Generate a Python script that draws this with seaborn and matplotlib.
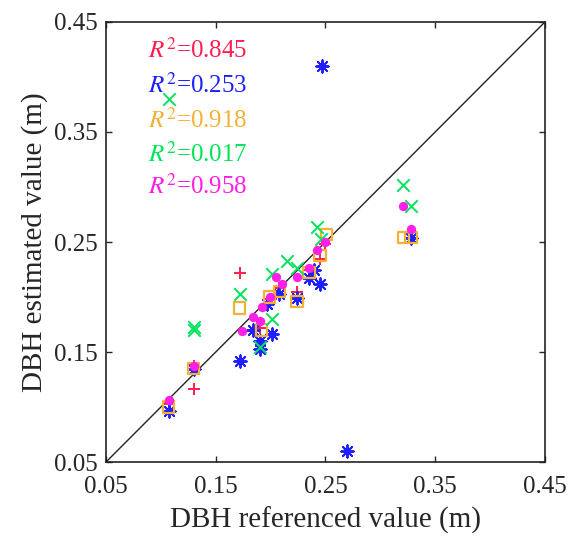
import numpy as np
import pandas as pd
import matplotlib
matplotlib.use("Agg")
import matplotlib.pyplot as plt
import seaborn as sns

# data (m)
red_x = [0.107, 0.130, 0.130, 0.172, 0.190, 0.200, 0.208, 0.224, 0.235, 0.245, 0.250, 0.328]
red_y = [0.103, 0.116, 0.137, 0.222, 0.172, 0.198, 0.208, 0.205, 0.225, 0.235, 0.248, 0.254]

blue_x = [0.107, 0.130, 0.172, 0.184, 0.190, 0.190, 0.197, 0.201, 0.208, 0.224, 0.235, 0.240,
          0.245, 0.247, 0.270, 0.328]
blue_y = [0.096, 0.135, 0.142, 0.170, 0.160, 0.153, 0.194, 0.166, 0.203, 0.199, 0.217, 0.225,
          0.212, 0.410, 0.060, 0.254]

orange_x = [0.107, 0.130, 0.172, 0.192, 0.199, 0.208, 0.224, 0.235, 0.245, 0.251, 0.321, 0.328]
orange_y = [0.100, 0.135, 0.190, 0.170, 0.200, 0.205, 0.196, 0.222, 0.238, 0.257, 0.254, 0.254]

green_x = [0.107, 0.130, 0.130, 0.172, 0.190, 0.201, 0.201, 0.215, 0.224, 0.242, 0.246, 0.321,
           0.328]
green_y = [0.380, 0.170, 0.173, 0.203, 0.155, 0.221, 0.180, 0.233, 0.226, 0.264, 0.253, 0.302,
           0.283]

magenta_x = [0.107, 0.130, 0.174, 0.184, 0.190, 0.192, 0.199, 0.205, 0.210, 0.224, 0.235, 0.242,
             0.250, 0.321, 0.328]
magenta_y = [0.106, 0.137, 0.169, 0.182, 0.178, 0.191, 0.200, 0.218, 0.212, 0.218, 0.226, 0.243,
             0.250, 0.283, 0.262]

r2_labels = ["0.845", "0.253", "0.918", "0.017", "0.958"]
ticks = [0.05, 0.15, 0.25, 0.35, 0.45]

series = [
    (red_x, red_y, "#FF1F4F", "+"),
    (blue_x, blue_y, "#1F1FFF", (8, 2, 0)),
    (orange_x, orange_y, "#F2B233", "s"),
    (green_x, green_y, "#00E35A", "x"),
    (magenta_x, magenta_y, "#FF1FE6", "o"),
]

sns.set_style("ticks")
plt.rcParams["font.family"] = ["Liberation Serif", "DejaVu Serif"]
plt.rcParams["mathtext.fontset"] = "stix"

fig = plt.figure(figsize=(5.7, 5.36), dpi=100)
ax = fig.add_axes([0.186, 0.138, 0.770, 0.821])

# 1:1 line
sns.lineplot(x=[0.05, 0.45], y=[0.05, 0.45], color="#222222", linewidth=1.0, ax=ax)

for xs, ys, col, mk in series:
    df = pd.DataFrame({"ref": xs, "est": ys})
    if mk == "s":
        sns.scatterplot(data=df, x="ref", y="est", marker="s", s=65, facecolors="none",
                        edgecolor=col, linewidth=1.6, ax=ax, zorder=3)
    elif mk == "o":
        sns.scatterplot(data=df, x="ref", y="est", marker="o", s=45, color=col,
                        edgecolor=col, linewidth=0, ax=ax, zorder=4)
    else:
        sns.scatterplot(data=df, x="ref", y="est", marker=mk, s=80, color=col,
                        linewidth=1.4, ax=ax, zorder=3)

ax.set_xlim(0.05, 0.45)
ax.set_ylim(0.05, 0.45)
ax.set_xticks(ticks)
ax.set_yticks(ticks)
ax.set_xticklabels([f"{t:.2f}" for t in ticks])
ax.set_yticklabels([f"{t:.2f}" for t in ticks])
ax.tick_params(direction="in", length=4, width=1, labelsize=18,
               top=True, right=True)
ax.tick_params(axis="x", pad=10)
ax.tick_params(axis="y", pad=6)
for sp in ax.spines.values():
    sp.set_linewidth(1.2)
    sp.set_color("#222222")

ax.set_xlabel("DBH referenced value (m)", fontsize=21, labelpad=6)
ax.set_ylabel("DBH estimated value (m)", fontsize=21, labelpad=4)

ys_txt = [0.936, 0.856, 0.776, 0.700, 0.626]
for (xs, ys, col, mk), lab, yt in zip(series, r2_labels, ys_txt):
    ax.text(0.095, yt, r"$R^{2}$=" + lab, transform=ax.transAxes, color=col,
            fontsize=18, va="center", ha="left")

fig.savefig("out.png", dpi=100)
